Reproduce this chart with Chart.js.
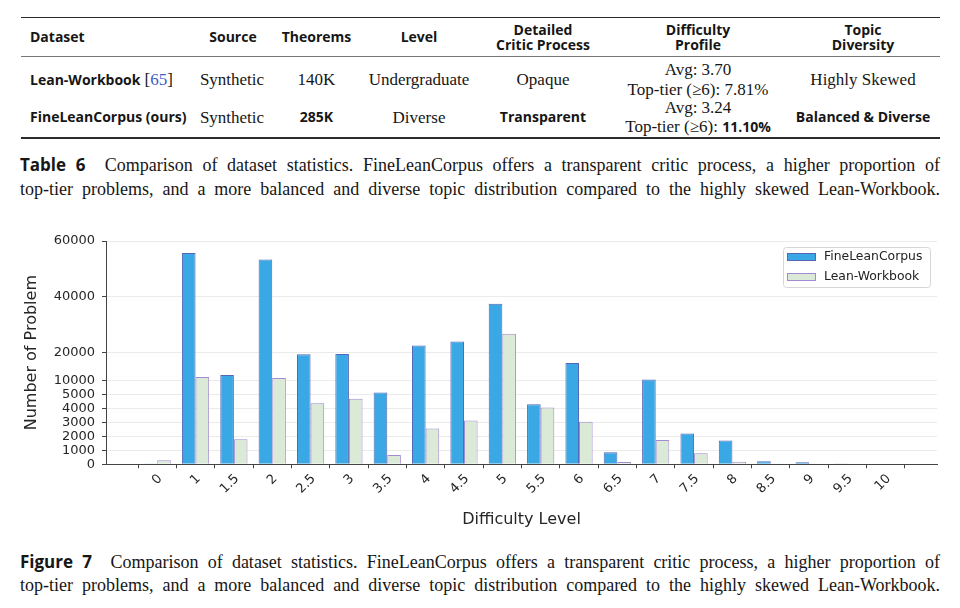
<!DOCTYPE html>
<html>
<head>
<meta charset="utf-8">
<script src="https://cdn.jsdelivr.net/npm/chart.js@4.4.1/dist/chart.umd.min.js"></script>
<style>
  html, body { margin: 0; padding: 0; background: #fff; }
  #page { position: relative; width: 960px; height: 608px; overflow: hidden; background: #fff; color: #161616; }
  .t { position: absolute; white-space: nowrap; transform: translate(-50%, -50%); line-height: 1; }
  .l { position: absolute; white-space: nowrap; transform: translate(0, -50%); line-height: 1; }
  .sans { font-family: "Open Sans", sans-serif; font-weight: 700; font-size: 14px; }
  .serif { font-family: "Liberation Serif", serif; font-size: 17px; }
  .rule { position: absolute; left: 21px; width: 919px; background: #2b2b2b; }
  .cap { position: absolute; left: 20px; width: 920px; height: 24px; line-height: 24px;
         font-family: "Liberation Serif", serif; font-size: 18px; text-align: justify; text-align-last: justify; white-space: nowrap; }
  .cap b { font-family: "Open Sans", sans-serif; font-weight: 700; font-size: 17px; }
  .cite { color: #3d5fc4; }
  #chartWrap { position: absolute; left: 0; top: 225px; width: 960px; height: 310px; }
</style>
</head>
<body>
<div id="page">
  <div class="rule" style="top:16.5px;height:1.5px;"></div>
  <div class="rule" style="top:56px;height:1px;background:#777;"></div>
  <div class="rule" style="top:136.5px;height:2px;"></div>

  <div class="l sans" style="left:30px;top:37px;">Dataset</div>
  <div class="t sans" style="left:233px;top:37px;">Source</div>
  <div class="t sans" style="left:316.5px;top:37px;">Theorems</div>
  <div class="t sans" style="left:419px;top:37px;">Level</div>
  <div class="t sans" style="left:543px;top:29.5px;">Detailed</div>
  <div class="t sans" style="left:543px;top:44.5px;">Critic Process</div>
  <div class="t sans" style="left:698px;top:29.5px;">Difficulty</div>
  <div class="t sans" style="left:698px;top:44.5px;">Profile</div>
  <div class="t sans" style="left:863px;top:29.5px;">Topic</div>
  <div class="t sans" style="left:863px;top:44.5px;">Diversity</div>

  <div class="l" style="left:30px;top:79px;"><span class="sans">Lean-Workbook</span> <span class="serif">[<span class="cite">65</span>]</span></div>
  <div class="t serif" style="left:232px;top:79px;">Synthetic</div>
  <div class="t serif" style="left:316.5px;top:79px;">140K</div>
  <div class="t serif" style="left:419px;top:79px;">Undergraduate</div>
  <div class="t serif" style="left:543px;top:79px;">Opaque</div>
  <div class="t serif" style="left:698px;top:68.5px;">Avg: 3.70</div>
  <div class="t serif" style="left:698px;top:89px;">Top-tier (≥6): 7.81%</div>
  <div class="t serif" style="left:863px;top:79px;">Highly Skewed</div>

  <div class="l sans" style="left:30px;top:116.5px;">FineLeanCorpus (ours)</div>
  <div class="t serif" style="left:232px;top:116.5px;">Synthetic</div>
  <div class="t sans" style="left:316.5px;top:116.5px;">285K</div>
  <div class="t serif" style="left:419px;top:116.5px;">Diverse</div>
  <div class="t sans" style="left:543px;top:116.5px;">Transparent</div>
  <div class="t serif" style="left:698px;top:106.5px;">Avg: 3.24</div>
  <div class="t serif" style="left:698px;top:126px;">Top-tier (≥6): <span class="sans">11.10%</span></div>
  <div class="t sans" style="left:863px;top:116.5px;">Balanced &amp; Diverse</div>

  <div class="cap" style="top:153px;"><b>Table 6</b>&nbsp; Comparison of dataset statistics. FineLeanCorpus offers a transparent critic process, a higher proportion of</div>
  <div class="cap" style="top:177px;">top-tier problems, and a more balanced and diverse topic distribution compared to the highly skewed Lean-Workbook.</div>

  <div id="chartWrap"><canvas id="c" width="960" height="310"></canvas></div>

  <div class="cap" style="top:550px;"><b>Figure 7</b>&nbsp; Comparison of dataset statistics. FineLeanCorpus offers a transparent critic process, a higher proportion of</div>
  <div class="cap" style="top:573px;">top-tier problems, and a more balanced and diverse topic distribution compared to the highly skewed Lean-Workbook.</div>
</div>

<script>
// ---- data ----
const difficultyLabels = ['0','1','1.5','2','2.5','3','3.5','4','4.5','5','5.5','6','6.5','7','7.5','8','8.5','9','9.5','10'];
const fineLeanCorpus = [15, 55700, 12000, 53400, 19400, 19500, 5700, 22600, 24000, 37500, 4310, 16300, 860, 10400, 2210, 1710, 215, 140, 30, 35];
const leanWorkbook   = [290, 11300, 1800, 10900, 4380, 4690, 660, 2570, 3140, 26800, 4070, 3040, 165, 1740, 790, 190, 40, 20, 10, 40];
const yTickValues = [0, 1000, 2000, 3000, 4000, 5000, 10000, 20000, 40000, 60000];

// ---- piecewise-linear value axis (0–5000 expanded, above 5000 compressed) ----
const BREAK = 5000, RATIO = 0.2;
const fwd = v => v <= BREAK ? v : BREAK + (v - BREAK) * RATIO;
const inv = t => t <= BREAK ? t : BREAK + (t - BREAK) / RATIO;
class BrokenScale extends Chart.LinearScale {
  getPixelForValue(value) {
    const a = fwd(this.min), b = fwd(this.max);
    return this.getPixelForDecimal((fwd(value) - a) / (b - a));
  }
  getValueForPixel(pixel) {
    const a = fwd(this.min), b = fwd(this.max);
    return inv(a + this.getDecimalForPixel(pixel) * (b - a));
  }
}
BrokenScale.id = 'broken';
BrokenScale.defaults = Chart.LinearScale.defaults;
Chart.register(BrokenScale);

const legendPlugin = {
  id: 'boxLegend',
  afterDraw(chart) {
    const {ctx, chartArea} = chart;
    const w = 147, h = 40;
    const x = chartArea.right - 154, y = chartArea.top + 6;
    ctx.save();
    ctx.beginPath();
    ctx.roundRect(x + 0.5, y + 0.5, w, h, 3);
    ctx.fillStyle = 'rgba(255,255,255,0.85)';
    ctx.fill();
    ctx.strokeStyle = '#d6d6d6';
    ctx.lineWidth = 1;
    ctx.stroke();
    ctx.font = '12.4px "DejaVu Sans"';
    ctx.textBaseline = 'middle';
    chart.data.datasets.forEach((ds, i) => {
      const cy = y + 10 + i * 20;
      ctx.fillStyle = ds.backgroundColor;
      ctx.fillRect(x + 4.5, cy - 3.5, 28, 7);
      ctx.strokeStyle = ds.borderColor;
      ctx.lineWidth = 1;
      ctx.strokeRect(x + 4.5, cy - 3.5, 28, 7);
      ctx.fillStyle = '#222';
      ctx.fillText(ds.label, x + 41, cy);
    });
    ctx.restore();
  }
};

const tickFont = {family: 'DejaVu Sans', size: 13};
const titleFont = {family: 'DejaVu Sans', size: 16};

new Chart(document.getElementById('c'), {
  type: 'bar',
  data: {
    datasets: [
      {label: 'FineLeanCorpus', data: fineLeanCorpus.map((v, i) => ({x: i, y: v})),
       backgroundColor: '#3aa8e5', borderColor: '#5566b8', borderWidth: 1,
       categoryPercentage: 0.71, barPercentage: 1.0},
      {label: 'Lean-Workbook', data: leanWorkbook.map((v, i) => ({x: i, y: v})),
       backgroundColor: '#dbead6', borderColor: '#a28bd2', borderWidth: 1,
       categoryPercentage: 0.71, barPercentage: 1.0}
    ]
  },
  options: {
    responsive: false,
    animation: false,
    devicePixelRatio: 1,
    layout: {padding: {top: 16, right: 23, left: 0, bottom: 0}},
    plugins: {legend: {display: false}, tooltip: {enabled: false}},
    scales: {
      x: {
        type: 'linear', min: -1.335, max: 20.335, offset: false,
        afterBuildTicks: s => { s.ticks = difficultyLabels.map((_, i) => ({value: i})); },
        afterFit: s => { s.height = 70.7; },
        ticks: {autoSkip: false, minRotation: 45, maxRotation: 45, padding: 3, labelOffset: 3,
                callback: v => difficultyLabels[Math.round(v)] ?? '', font: tickFont, color: '#262626'},
        grid: {display: true, drawOnChartArea: false, drawTicks: true, tickLength: 4, tickColor: '#444'},
        border: {display: true, color: '#444', width: 1},
        title: {display: true, text: 'Difficulty Level', font: titleFont, color: '#262626', padding: {top: 0, bottom: 5.4}}
      },
      y: {
        type: 'broken', min: 0, max: 60000,
        afterBuildTicks: s => { s.ticks = yTickValues.map(v => ({value: v})); },
        afterFit: s => { s.width = 106; },
        ticks: {autoSkip: false, padding: 7, callback: v => String(v), font: tickFont, color: '#262626'},
        grid: {color: '#ebebeb', lineWidth: 1, drawTicks: true, tickLength: 4, tickColor: '#444'},
        border: {display: true, color: '#444', width: 1},
        title: {display: true, text: 'Number of Problem', font: titleFont, color: '#262626', padding: {top: 22.4, bottom: 0}}
      }
    }
  },
  plugins: [legendPlugin]
});
</script>
</body>
</html>
